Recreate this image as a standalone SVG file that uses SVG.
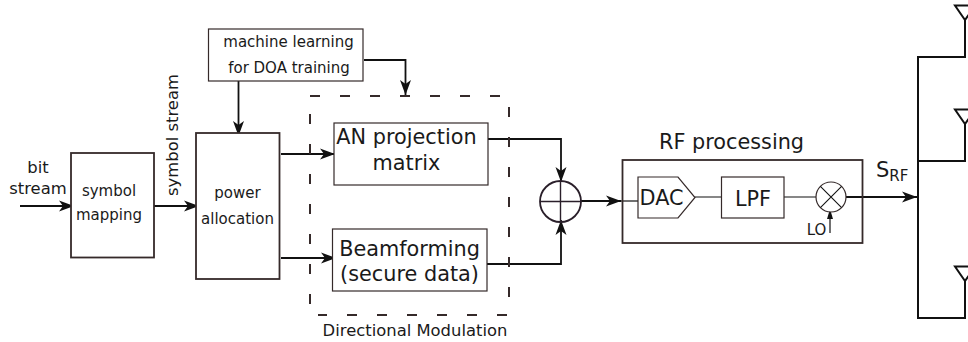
<svg xmlns="http://www.w3.org/2000/svg" width="968" height="342" viewBox="0 0 968 342">
<style>
text{font-family:"DejaVu Sans",sans-serif;fill:#1a1a1a;text-anchor:middle}
.b{fill:#fff;stroke:#352a2a;stroke-width:1.800}
.t{fill:#fff;stroke:#352a2a;stroke-width:1.200}
.c{fill:none;stroke:#111;stroke-width:1.800}
.a{fill:none;stroke:#111;stroke-width:1.800;marker-end:url(#m)}
.s{font-size:15px}.n{font-size:16.400px}.m{font-size:20.800px}
.d{fill:none;stroke:#352a2a;stroke-width:2;stroke-dasharray:10 20}
</style>
<defs><marker id="m" markerUnits="userSpaceOnUse" markerWidth="16" markerHeight="12" refX="15" refY="6" orient="auto"><path d="M0,0.500L15,6L0,11.500L4,6Z" fill="#111"/></marker></defs>
<rect width="968" height="342" fill="#fff"/>
<g id="connectors">
<path class="a" d="M20,206H74"/>
<path class="a" d="M154,206H199"/>
<path class="a" d="M238.500,81V136"/>
<path class="a" d="M281,154H335"/>
<path class="a" d="M281,258H336"/>
<path class="a" d="M364,60H405.500V95"/>
<path class="a" d="M488,139H561V182"/>
<path class="a" d="M487,264H561V220"/>
<path class="a" d="M581,201H621"/>
<path class="c" style="stroke-width:1.200" d="M621,201H638"/>
<path class="c" style="stroke-width:1.200" d="M695,197H721M784,197H816"/>
<path class="a" d="M846,197H917"/>
<path class="c" style="stroke-width:1.200" d="M830,233V215"/>
<path d="M830,209L827,219H833Z" fill="#111"/>
<path class="c" style="stroke-width:2" d="M965,20V57H918V318H965V281M918,161H965V124"/>
</g>
<g id="bit-stream-label"><text class="n" x="38" y="173">bit</text><text class="n" x="38" y="194">stream</text></g>
<g id="symbol-stream-label"><text class="n" transform="translate(178,135) rotate(-90)">symbol stream</text></g>
<g id="symbol-mapping"><rect class="b" x="71" y="153" width="83" height="104.500"/><text class="s" x="109" y="196">symbol</text><text class="s" x="109" y="220">mapping</text></g>
<g id="power-allocation"><rect class="b" x="196" y="133" width="83.500" height="146"/><text class="s" x="237.500" y="198">power</text><text class="s" x="237.500" y="224">allocation</text></g>
<g id="machine-learning"><rect class="t" x="208.500" y="29" width="154.500" height="52"/><text class="s" x="288.500" y="47">machine learning</text><text class="s" x="289" y="73">for DOA training</text></g>
<g id="directional-modulation"><path class="d" d="M310,96H500M509,107V297M507,315H318M310,304V114"/><text class="n" x="415" y="336">Directional Modulation</text></g>
<g id="an-projection"><rect class="t" x="334" y="123" width="154" height="62"/><text class="m" x="406.500" y="144">AN projection</text><text class="m" x="406.500" y="170">matrix</text></g>
<g id="beamforming"><rect class="t" x="332.500" y="229" width="154.500" height="62"/><text class="m" x="409.500" y="256">Beamforming</text><text class="m" x="409.500" y="281">(secure data)</text></g>
<g id="summer"><circle cx="560.500" cy="201.500" r="20.500" fill="none" stroke="#2a1f2a" stroke-width="1.800"/><path d="M540,201.500H581M560.500,181V222" stroke="#2a1f2a" stroke-width="1.400" fill="none"/></g>
<g id="rf-processing"><rect fill="none" stroke="#352a2a" stroke-width="1.800" x="622.500" y="160" width="240" height="83"/><text class="m" x="731.500" y="149">RF processing</text></g>
<g id="dac"><path class="t" d="M638,177H678L695,197.500L678,218H638Z"/><text class="m" x="661.500" y="205">DAC</text></g>
<g id="lpf"><rect class="t" x="721.500" y="177" width="62.500" height="41"/><text class="m" x="753" y="206">LPF</text></g>
<g id="mixer"><circle class="t" cx="831" cy="197" r="15"/><path d="M820.400,186.400L841.600,207.600M841.600,186.400L820.400,207.600" stroke="#111" stroke-width="1.100" fill="none"/><text x="816.500" y="235" style="font-size:15px">LO</text></g>
<g id="s-rf"><text x="876" y="177" style="font-size:21px;text-anchor:start">S<tspan font-size="15" dy="4">RF</tspan></text></g>
<g id="antennas"><path class="c" style="stroke-width:2" d="M955,5.500H975L965,20ZM955,109.500H975L965,124ZM955,266.500H975L965,281Z"/></g>
</svg>
